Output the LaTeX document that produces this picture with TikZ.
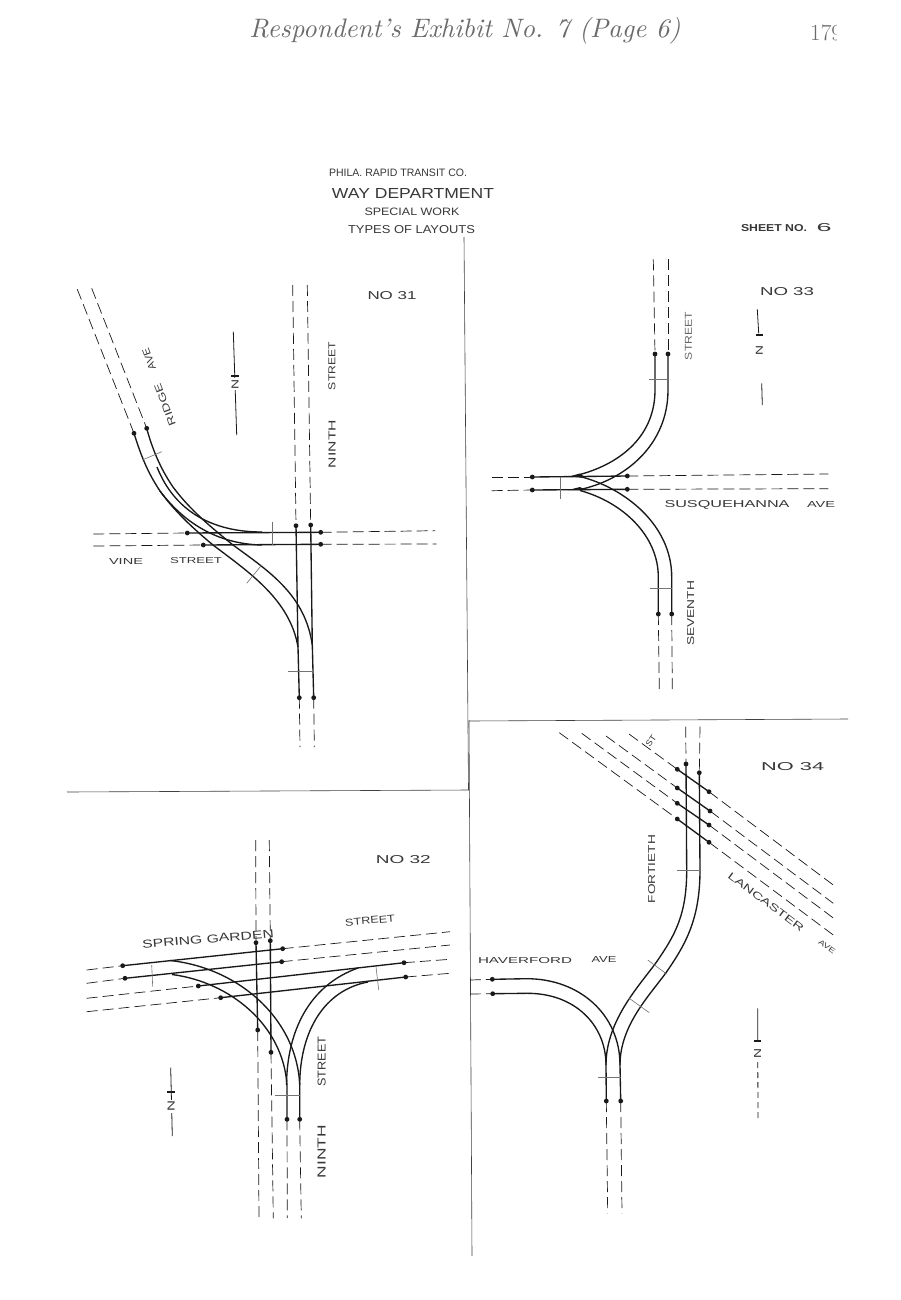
\documentclass[tikz,border=0pt]{standalone}
\usepackage{fontspec}
\usepackage{graphicx}
\setmainfont{Latin Modern Roman}
\newfontfamily\hand{Liberation Sans}
\newcommand\hl[3]{\resizebox{#1pt}{#2pt}{\hand #3}}
\definecolor{ink}{gray}{0.1}
\definecolor{label}{gray}{0.22}
\definecolor{head}{gray}{0.42}
\tikzset{
  rail/.style={draw=ink,line width=1.35pt},
  street/.style={draw=ink,line width=0.7pt,dash pattern=on 11pt off 5pt},
  tie/.style={draw=black!55,line width=0.6pt},
  rule/.style={draw=black!75,line width=0.6pt},
  northline/.style={draw=ink,line width=0.8pt},
  northtick/.style={draw=ink,line width=1.1pt},
  lab/.style={inner sep=0pt,text=label},
  pin/.style={fill=ink}
}
\newcommand\pins[1]{\foreach \p in {#1}{\fill[pin] \p circle (2.4pt);}}
\begin{document}
\begin{tikzpicture}[x=1pt,y=-1pt]
\fill[white] (0,0) rectangle (900,1300);
\useasboundingbox (0,0) rectangle (900,1300);

% page header
\node[lab,text=head] (pagehead) at (465,31) {\resizebox{431pt}{!}{\itshape Respondent's Exhibit No. 7 (Page 6)}};
\begin{scope}
\clip (800,10) rectangle (836,60);
\node[lab,text=head,anchor=west] (pagenum) at (810,33) {\fontsize{23}{23}\selectfont 179};
\end{scope}

% title block
\node[lab] (t1) at (398,173) {\resizebox{138pt}{7.5pt}{\hand PHILA. RAPID TRANSIT CO.}};
\node[lab] (t2) at (413,193) {\resizebox{162pt}{10pt}{\hand WAY DEPARTMENT}};
\node[lab] (t3) at (412,212) {\resizebox{95pt}{7.5pt}{\hand SPECIAL WORK}};
\node[lab] (t4) at (411.5,230) {\resizebox{127pt}{8pt}{\hand TYPES OF LAYOUTS}};
\node[lab] (t5) at (774,228) {\resizebox{66pt}{7pt}{\hand\bfseries SHEET NO.}};
\node[lab] (t6) at (824,227.5) {\resizebox{15pt}{8pt}{\hand 6}};

% dividing rules
\draw[rule] (464,237) -- (468.5,790);
\draw[rule] (469,720) -- (472,1256);
\draw[rule] (67,792) -- (469,790);
\draw[rule] (469,721) -- (848,719);

%%%% NO 31
\draw[street] (292.7,285) -- (296,525.7);
\draw[street] (307.3,285) -- (310.7,525);
\draw[street] (299.3,697.7) -- (300,747);
\draw[street] (313.7,697.7) -- (314.3,747);
\draw[street] (77.3,289.3) -- (134,433.3);
\draw[street] (91.7,288.3) -- (146.7,428.3);
\draw[street] (93.3,534) -- (187.3,533);
\draw[street] (93.3,546) -- (203.3,545);
\draw[street] (320.7,532.3) -- (435,530.7);
\draw[street] (320.7,544.3) -- (436.7,544);
\draw[rail] (134,433.3) .. controls (140,452) and (146,470) .. (160,491) .. controls (175,512) and (195,530) .. (213,545) .. controls (250,573) and (290,600) .. (298,647) -- (299.3,697.7);
\draw[rail] (146.7,428.3) .. controls (152,448) and (160,468) .. (173,487) .. controls (190,510) and (212,528) .. (233,545) .. controls (270,572) and (305,595) .. (312.3,645) -- (313.7,697.7);
\draw[rail] (160,491) .. controls (178,515) and (210,544) .. (262,545);
\draw[rail] (157,467) .. controls (172,505) and (205,532) .. (262,532);
\draw[rail] (187.3,533) -- (320.7,532.3);
\draw[rail] (203.3,545) -- (320.7,544.3);
\draw[rail] (296,525.7) -- (298,647);
\draw[rail] (310.7,525) -- (312.3,645);
\pins{(134,433.3),(146.7,428.3),(187.3,533),(203.3,545),(320.7,532.3),(320.7,544.3),(296,525.7),(310.7,525),(299.3,697.7),(313.7,697.7)}
\draw[tie] (142.3,460) -- (161.7,451.7);
\draw[tie] (246.7,583.3) -- (261.7,565);
\draw[tie] (272.3,521.7) -- (272.3,545);
\draw[tie] (287.7,671.7) -- (313.3,671.7);
\draw[northline] (233.3,331.7) -- (236.7,435);
\draw[northtick] (231,376) -- (239,376);
\node[lab,rotate=-90,fill=white,inner sep=1pt] (n31) at (235,384) {\hl{10}{7}{N}};
\node[lab] (no31) at (392,295.5) {\hl{49}{8}{NO 31}};
\node[lab,rotate=111] (ridge) at (165,405) {\hl{44}{7}{RIDGE}};
\node[lab,rotate=111] (ave31) at (149,359) {\hl{22}{7}{AVE}};
\node[lab,rotate=90] (ninth31) at (332,444) {\hl{48}{7}{NINTH}};
\node[lab,rotate=90] (street31) at (332,366) {\hl{48}{7}{STREET}};
\node[lab] (vine) at (126,561.7) {\hl{34}{6}{VINE}};
\node[lab] (vinest) at (196,560.7) {\hl{52}{6}{STREET}};

%%%% NO 33
\draw[street] (653.3,259.3) -- (655,354);
\draw[street] (668,259.3) -- (668,354);
\draw[street] (658.3,614) -- (659.3,689);
\draw[street] (671.7,614) -- (672.3,689);
\draw[street] (491.7,477) -- (532.3,477);
\draw[street] (491.7,490.7) -- (532.3,490);
\draw[street] (627.3,476) -- (828.3,474);
\draw[street] (627.3,489.3) -- (828.3,488.7);
\draw[rail] (655,354) -- (655,390) .. controls (655,435) and (622,463) .. (580,474.5);
\draw[rail] (668,354) -- (668,390) .. controls (668,445) and (625,480) .. (580,489.5);
\draw[rail] (658.3,614) -- (658.3,577) .. controls (658.3,535) and (622,502) .. (580,490.5);
\draw[rail] (671.7,614) -- (671.7,577) .. controls (671.7,525) and (625,488) .. (580,476.5);
\draw[rail] (532.3,477) -- (627.3,476);
\draw[rail] (532.3,490) -- (627.3,489.3);
\fill[pin] (568,476.7) -- (580,473.5) -- (586,478) -- cycle;
\fill[pin] (568,490) -- (580,487) -- (586,490) -- cycle;
\pins{(655,354),(668,354),(658.3,614),(671.7,614),(532.3,477),(532.3,490),(627.3,476),(627.3,489.3)}
\draw[tie] (560,476.7) -- (560,499.3);
\draw[tie] (649,379.3) -- (668,379.3);
\draw[tie] (650,588.3) -- (671.7,588.3);
\draw[northline] (757.3,309.3) -- (758.7,333.3);
\draw[northline] (761.7,383.3) -- (762.3,405);
\draw[northtick] (756,335) -- (763,335);
\node[lab,rotate=-90] (n33) at (759.3,350) {\hl{10}{7}{N}};
\node[lab] (no33) at (787,291.5) {\hl{54}{8}{NO 33}};
\node[lab,rotate=90,text=black!60] (st33) at (688.3,336) {\hl{48}{7}{STREET}};
\node[lab,rotate=90] (sev) at (690.7,613.3) {\hl{65}{7}{SEVENTH}};
\node[lab] (susq) at (727,505) {\hl{125}{7}{SUSQUEHANNA}};
\node[lab] (ave33) at (821,504) {\hl{28}{6}{AVE}};

%%%% NO 32
\draw[street] (255.7,840) -- (256,942.7);
\draw[street] (269.3,840) -- (270.3,940.7);
\draw[street] (257.7,1030) -- (259,1218.3);
\draw[street] (271,1052.3) -- (273.3,1218.3);
\draw[street] (287,1119.3) -- (287.3,1218);
\draw[street] (299.7,1119.3) -- (301.3,1218.3);
\draw[street] (86.7,970) -- (122.7,965.7);
\draw[street] (86.7,983.3) -- (125,978.3);
\draw[street] (282.7,948.7) -- (450,931.7);
\draw[street] (281.7,961.7) -- (450,945);
\draw[street] (86.7,998.3) -- (198.3,986);
\draw[street] (86.7,1011.7) -- (220.7,997.7);
\draw[street] (404,962.7) -- (450,959.3);
\draw[street] (405.7,977) -- (450,973.3);
\draw[rail] (122.7,965.7) -- (282.7,948.7);
\draw[rail] (125,978.3) -- (281.7,961.7);
\draw[rail] (198.3,986) -- (404,962.7);
\draw[rail] (220.7,997.7) -- (405.7,977);
\draw[rail] (256,942.7) -- (257.7,1030);
\draw[rail] (270.3,940.7) -- (271,1052.3);
\draw[rail] (170,960.5) .. controls (240,968) and (297,1020) .. (299.7,1085) -- (299.7,1119.3);
\draw[rail] (172,974.5) .. controls (230,982) and (283,1025) .. (287,1085) -- (287,1119.3);
\draw[rail] (358,968) .. controls (310,985) and (287,1030) .. (286.5,1085);
\draw[rail] (368,982) .. controls (325,990) and (300,1030) .. (299.7,1085);
\pins{(122.7,965.7),(125,978.3),(282.7,948.7),(281.7,961.7),(198.3,986),(220.7,997.7),(404,962.7),(405.7,977),(256,942.7),(270.3,940.7),(257.7,1030),(271,1052.3),(287,1119.3),(299.7,1119.3)}
\draw[tie] (151.7,965) -- (152.7,986.7);
\draw[tie] (376,966.7) -- (378.7,990);
\draw[tie] (275,1095) -- (299.7,1095);
\draw[northline] (170.7,1067.7) -- (172.3,1136);
\draw[northtick] (167,1092) -- (175,1092);
\node[lab,rotate=-90,fill=white,inner sep=1pt] (n32) at (171,1106) {\hl{11}{7}{N}};
\node[lab] (no32) at (403.3,859.3) {\hl{55}{8}{NO 32}};
\node[lab,rotate=5] (spring) at (208,939) {\hl{132}{8}{SPRING GARDEN}};
\node[lab,rotate=5] (st32) at (370,920.5) {\hl{50}{7}{STREET}};
\node[lab,rotate=90] (st32v) at (321.7,1061.7) {\hl{50}{8}{STREET}};
\node[lab,rotate=90] (ninth32) at (321.7,1151.5) {\hl{53}{8}{NINTH}};

%%%% NO 34
\draw[street] (685.7,726.7) -- (686,764);
\draw[street] (700,726.7) -- (699.3,772.7);
\draw[street] (606.3,1101) -- (607.7,1213.3);
\draw[street] (620.7,1101) -- (622,1213.3);
\draw[street] (470,980) -- (492.3,979.3);
\draw[street] (470,994) -- (492.7,993.7);
\draw[street] (629,734) -- (677.3,769.3);
\draw[street] (606,736) -- (677.3,788);
\draw[street] (581.7,733.3) -- (677.3,803.3);
\draw[street] (559.3,732.7) -- (677.3,819);
\draw[street] (709,791.7) -- (833.3,885);
\draw[street] (710,811) -- (833.3,903.3);
\draw[street] (709,825) -- (833.3,918);
\draw[street] (709,842.3) -- (833.3,935);
\draw[rail] (677.3,769.3) -- (709,791.7);
\draw[rail] (677.3,788) -- (710,811);
\draw[rail] (677.3,803.3) -- (709,825);
\draw[rail] (677.3,819) -- (709,842.3);
\draw[rail] (686,764) -- (686.7,870) .. controls (686.7,915) and (675,935) .. (656.7,961.7) .. controls (640,985) and (606,1020) .. (606,1065) -- (606.3,1101);
\draw[rail] (699.3,772.7) -- (700,870) .. controls (700,920) and (685,945) .. (666.7,971.7) .. controls (650,995) and (620,1025) .. (620,1065) -- (620.7,1101);
\draw[rail] (492.3,979.3) -- (526.7,978.7) .. controls (580,978.7) and (620,1015) .. (620,1065);
\draw[rail] (492.7,993.7) -- (526.7,993.3) .. controls (575,993) and (606,1025) .. (606,1065);
\pins{(686,764),(699.3,772.7),(606.3,1101),(620.7,1101),(492.3,979.3),(492.7,993.7),(677.3,769.3),(677.3,788),(677.3,803.3),(677.3,819),(709,791.7),(710,811),(709,825),(709,842.3)}
\draw[tie] (676.7,870) -- (700,870);
\draw[tie] (647.7,960) -- (666.7,974);
\draw[tie] (629.3,998.3) -- (649.3,1012.7);
\draw[tie] (598.3,1077.7) -- (620.7,1077.7);
\draw[northline] (757.7,1008.3) -- (757.8,1040);
\draw[northline,dash pattern=on 6pt off 4pt] (757.8,1062) -- (758,1118.3);
\draw[northtick] (754,1041) -- (761,1041);
\node[lab,rotate=-90] (n34) at (757.7,1053) {\hl{10}{7}{N}};
\node[lab] (no34) at (792.7,766.7) {\hl{63}{8}{NO 34}};
\node[lab,rotate=55] (st34) at (651,741) {\hl{12}{6}{ST}};
\node[lab,rotate=90] (fort) at (651.7,869) {\hl{68}{7}{FORTIETH}};
\node[lab,rotate=-37] (lanc) at (766,902) {\hl{92}{7}{LANCASTER}};
\node[lab,rotate=-35] (ave34) at (827,947) {\hl{19}{5}{AVE}};
\node[lab] (hav) at (525,960.7) {\hl{94}{6}{HAVERFORD}};
\node[lab] (avehav) at (604,959.3) {\hl{25}{6}{AVE}};
\end{tikzpicture}
\end{document}
